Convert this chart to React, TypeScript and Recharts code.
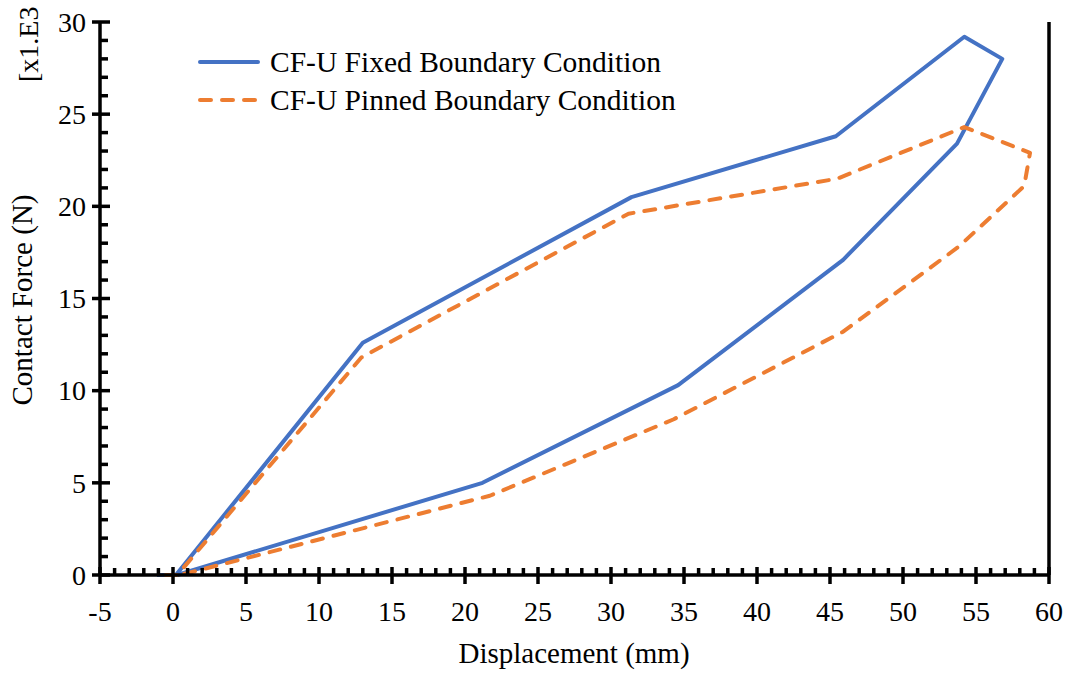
import * as React from 'react'
import { LineChart, XAxis, YAxis, Line, Legend } from 'recharts'

// displacement (mm) / contact force (x1000 N)
const fixedX = [-1.1, 0.2, 13.0, 31.4, 45.4, 54.2, 56.8, 53.7, 45.9, 34.6, 21.2, 0.9, 0.3]
const fixedY = [0, 0, 12.6, 20.5, 23.8, 29.2, 28.0, 23.4, 17.1, 10.3, 5.0, 0.15, 0]

const pinnedX = [-0.5, 0.3, 12.9, 31.2, 45.5, 54.2, 58.7, 58.3, 53.8, 45.9, 34.3, 21.7, 1.0, 0.3]
const pinnedY = [0, 0, 11.8, 19.6, 21.5, 24.3, 22.9, 21.1, 17.8, 13.2, 8.45, 4.3, 0.1, 0]

const xTicks = Array.from({ length: 66 }, (_, i) => i - 5)
const yTicks = Array.from({ length: 31 }, (_, i) => i)

const fixedData = fixedX.map((x, i) => ({ x, y: fixedY[i] }))
const pinnedData = pinnedX.map((x, i) => ({ x, y: pinnedY[i] }))

const FONT = '"Liberation Serif", "Times New Roman", serif'
const BLUE = '#4472C4'
const ORANGE = '#ED7D31'
const TW = 3.5

const XTick = (props: any) => {
  const { x, y, payload } = props
  const major = payload.value % 5 === 0
  return (
    <g>
      <line x1={x} x2={x} y1={major ? y - 8 : y - 7} y2={major ? y + 9 : y} stroke="#000" strokeWidth={TW} />
      {major && (
        <text x={x} y={y + 46} textAnchor="middle" fontFamily={FONT} fontSize={28} fill="#000">
          {payload.value}
        </text>
      )}
    </g>
  )
}

const LeftTick = (props: any) => {
  const { x, y, payload } = props
  const major = payload.value % 5 === 0
  return (
    <g>
      <line x1={major ? x - 8 : x} x2={major ? x + 10 : x + 8} y1={y} y2={y} stroke="#000" strokeWidth={TW} />
      {major && (
        <text x={x - 14} y={y} dy="0.35em" textAnchor="end" fontFamily={FONT} fontSize={28} fill="#000">
          {payload.value}
        </text>
      )}
    </g>
  )
}

const RightTick = (props: any) => {
  const { x, y, payload } = props
  const major = payload.value % 5 === 0
  return <line x1={major ? x - 8 : x - 6} x2={major ? x + 8 : x} y1={y} y2={y} stroke="#000" strokeWidth={TW} />
}

const LegendBox = (props: any) => {
  const items = props.payload || []
  return (
    <div style={{ fontFamily: FONT, fontSize: 29.5, color: '#000', lineHeight: '38px' }}>
      {items.map((it: any) => (
        <div key={it.value} style={{ display: 'flex', alignItems: 'center', height: 38, whiteSpace: 'nowrap' }}>
          <svg width={76} height={10}>
            <line
              x1={6}
              x2={64}
              y1={5}
              y2={5}
              stroke={it.color}
              strokeWidth={4}
              strokeLinecap="round"
              strokeDasharray={it.payload.strokeDasharray}
            />
          </svg>
          <span>{it.value}</span>
        </div>
      ))}
    </div>
  )
}

export default function App() {
  return (
    <div style={{ position: 'absolute', left: 0, top: 0 }}>
      <LineChart width={1069} height={673} margin={{ top: 22, right: 0, bottom: 0, left: 0 }}>
        <XAxis
          type="number"
          dataKey="x"
          domain={[-5, 60]}
          ticks={xTicks}
          interval={0}
          tickSize={0}
          tickMargin={0}
          tickLine={false}
          tick={<XTick />}
          height={98}
          axisLine={{ stroke: '#000', strokeWidth: TW }}
          label={() => (
            <text x={574} y={663} textAnchor="middle" fontFamily={FONT} fontSize={29} fill="#000">
              Displacement (mm)
            </text>
          )}
        />
        <YAxis
          yAxisId="left"
          type="number"
          domain={[0, 30]}
          ticks={yTicks}
          interval={0}
          tickSize={0}
          tickMargin={0}
          tickLine={false}
          tick={<LeftTick />}
          width={100}
          axisLine={{ stroke: '#000', strokeWidth: TW }}
          label={() => (
            <g>
              <text
                transform="translate(32, 300) rotate(-90)"
                textAnchor="middle"
                fontFamily={FONT}
                fontSize={29}
                fill="#000"
              >
                Contact Force (N)
              </text>
              <text
                transform="translate(38, 82) rotate(-90)"
                textAnchor="start"
                fontFamily={FONT}
                fontSize={28}
                fill="#000"
              >
                [x1.E3
              </text>
            </g>
          )}
        />
        <YAxis
          yAxisId="right"
          orientation="right"
          type="number"
          domain={[0, 30]}
          ticks={yTicks}
          interval={0}
          tickSize={0}
          tickMargin={0}
          tickLine={false}
          tick={<RightTick />}
          width={20}
          axisLine={{ stroke: '#000', strokeWidth: TW }}
        />
        <Legend
          layout="vertical"
          align="center"
          verticalAlign="middle"
          wrapperStyle={{ left: 194, top: 43, width: 620 }}
          content={<LegendBox />}
        />
        <Line
          yAxisId="left"
          data={fixedData}
          dataKey="y"
          name="CF-U Fixed Boundary Condition"
          type="linear"
          stroke={BLUE}
          strokeWidth={4}
          strokeLinejoin="round"
          dot={false}
          isAnimationActive={false}
        />
        <Line
          yAxisId="left"
          data={pinnedData}
          dataKey="y"
          name="CF-U Pinned Boundary Condition"
          type="linear"
          stroke={ORANGE}
          strokeWidth={4}
          strokeDasharray="11 11"
          strokeLinecap="round"
          strokeLinejoin="round"
          dot={false}
          isAnimationActive={false}
        />
      </LineChart>
    </div>
  )
}
